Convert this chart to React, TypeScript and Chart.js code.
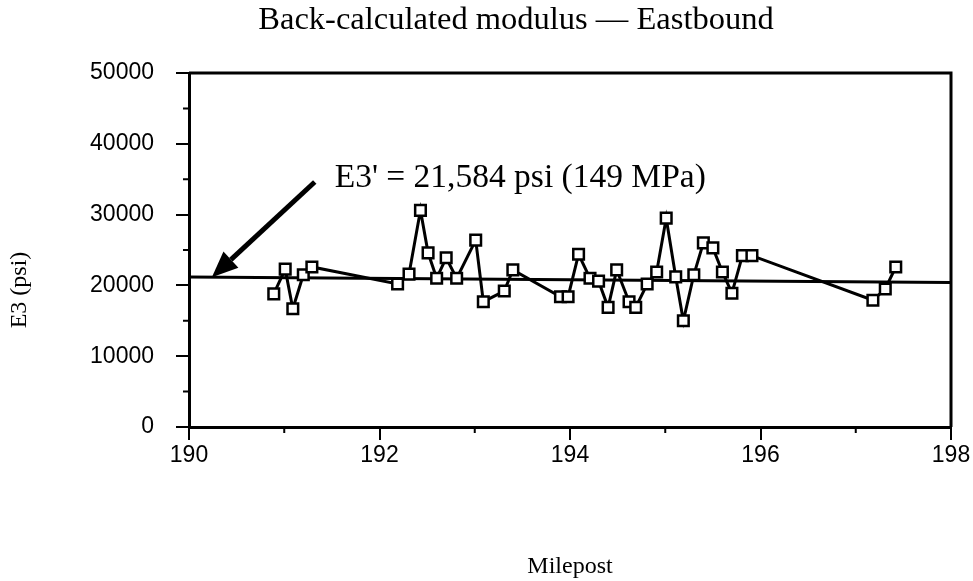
import React, { useEffect, useRef } from 'react';
import { Chart, registerables } from 'chart.js';

Chart.register(...registerables);

const TITLE = 'Back-calculated modulus — Eastbound';
const X_TITLE = 'Milepost';
const Y_TITLE = 'E3 (psi)';
const ANNOTATION = "E3' = 21,584 psi (149 MPa)";

const mileposts = [
  190.89, 191.01, 191.09, 191.2, 191.29, 192.19, 192.31, 192.43, 192.51, 192.6,
  192.7, 192.81, 193.01, 193.09, 193.31, 193.4, 193.9, 193.98, 194.09, 194.21,
  194.3, 194.4, 194.49, 194.62, 194.69, 194.81, 194.91, 195.01, 195.11, 195.19,
  195.3, 195.4, 195.5, 195.6, 195.7, 195.81, 195.91, 197.18, 197.31, 197.42,
];
const e3Values = [
  18800, 22300, 16700, 21500, 22600, 20200, 21600, 30600, 24600, 21000,
  23900, 21000, 26400, 17700, 19200, 22200, 18400, 18400, 24400, 21000,
  20600, 16900, 22200, 17700, 16900, 20200, 21900, 29500, 21200, 15000,
  21500, 26000, 25300, 21900, 18900, 24200, 24200, 17900, 19500, 22600,
];
const fitMileposts = [190, 198];
const fitValues = [21200, 20420];

const X_MIN = 190;
const X_MAX = 198;
const X_STEP = 2;
const Y_MIN = 0;
const Y_MAX = 50000;
const Y_STEP = 10000;

// arrow annotation, in data units
const arrowFrom = { x: 191.32, y: 34600 };
const arrowTo = { x: 190.24, y: 21150 };

const SANS = '"Liberation Sans", Arial, sans-serif';
const SERIF = '"Liberation Serif", "Times New Roman", serif';

const decorPlugin = {
  id: 'decor',
  afterDraw(chart: any) {
    const ctx = chart.ctx;
    const { left, right, top, bottom } = chart.chartArea;
    const xs = chart.scales.x;
    const ys = chart.scales.y;
    ctx.save();
    ctx.strokeStyle = '#000';
    ctx.fillStyle = '#000';
    // frame top + right
    ctx.lineWidth = 3;
    ctx.beginPath();
    ctx.moveTo(left, top);
    ctx.lineTo(right, top);
    ctx.lineTo(right, bottom);
    ctx.stroke();
    // minor ticks
    ctx.lineWidth = 2;
    ctx.beginPath();
    for (let v = X_MIN + X_STEP / 2; v < X_MAX; v += X_STEP) {
      const px = xs.getPixelForValue(v);
      ctx.moveTo(px, bottom);
      ctx.lineTo(px, bottom + 6);
    }
    for (let v = Y_MIN + Y_STEP / 2; v < Y_MAX; v += Y_STEP) {
      const py = ys.getPixelForValue(v);
      ctx.moveTo(left - 6, py);
      ctx.lineTo(left, py);
    }
    ctx.stroke();

    // arrow
    const x1 = xs.getPixelForValue(arrowFrom.x);
    const y1 = ys.getPixelForValue(arrowFrom.y);
    const x2 = xs.getPixelForValue(arrowTo.x);
    const y2 = ys.getPixelForValue(arrowTo.y);
    const ang = Math.atan2(y2 - y1, x2 - x1);
    const headLen = 26;
    const headHalf = 11;
    const bx = x2 - headLen * Math.cos(ang);
    const by = y2 - headLen * Math.sin(ang);
    ctx.lineWidth = 5;
    ctx.beginPath();
    ctx.moveTo(x1, y1);
    ctx.lineTo(bx, by);
    ctx.stroke();
    ctx.beginPath();
    ctx.moveTo(x2, y2);
    ctx.lineTo(bx + headHalf * Math.sin(ang), by - headHalf * Math.cos(ang));
    ctx.lineTo(bx - headHalf * Math.sin(ang), by + headHalf * Math.cos(ang));
    ctx.closePath();
    ctx.fill();

    // texts
    ctx.textBaseline = 'alphabetic';
    ctx.textAlign = 'left';
    ctx.font = `33.5px ${SERIF}`;
    ctx.fillText(ANNOTATION, x1 + 20, y1 + 5);

    ctx.textAlign = 'center';
    ctx.textBaseline = 'middle';
    ctx.font = `32.5px ${SERIF}`;
    ctx.fillText(TITLE, 516, 20);

    ctx.font = `24px ${SERIF}`;
    ctx.fillText(X_TITLE, (left + right) / 2, 567);

    ctx.save();
    ctx.translate(20, 290);
    ctx.rotate(-Math.PI / 2);
    ctx.fillText(Y_TITLE, 0, 0);
    ctx.restore();

    ctx.restore();
  },
};

export default function App() {
  const ref = useRef<HTMLCanvasElement | null>(null);
  useEffect(() => {
    if (!ref.current) return;
    const chart = new Chart(ref.current, {
      type: 'line',
      data: {
        datasets: [
          {
            label: 'E3',
            data: mileposts.map((x, i) => ({ x, y: e3Values[i] })),
            borderColor: '#000',
            borderWidth: 3,
            pointStyle: 'rect',
            pointRadius: 7.5,
            pointBorderWidth: 2.5,
            pointBackgroundColor: '#fff',
            pointBorderColor: '#000',
            tension: 0,
            order: 1,
          },
          {
            label: 'Fit',
            data: fitMileposts.map((x, i) => ({ x, y: fitValues[i] })),
            borderColor: '#000',
            borderWidth: 3,
            pointRadius: 0,
            tension: 0,
            order: 2,
          },
        ],
      },
      options: {
        responsive: false,
        animation: false,
        layout: { padding: { top: 73, right: 22, left: 0, bottom: 0 } },
        plugins: {
          legend: { display: false },
          tooltip: { enabled: false },
        },
        scales: {
          x: {
            type: 'linear',
            min: X_MIN,
            max: X_MAX,
            ticks: {
              stepSize: X_STEP,
              color: '#000',
              font: { family: SANS, size: 23 },
              padding: 2,
              maxRotation: 0,
            },
            grid: { drawOnChartArea: false, tickLength: 13, lineWidth: 2, color: '#000' },
            border: { color: '#000', width: 3 },
            afterFit: (s: any) => {
              s.height = 154;
            },
          },
          y: {
            min: Y_MIN,
            max: Y_MAX,
            ticks: {
              stepSize: Y_STEP,
              color: '#000',
              font: { family: SANS, size: 23 },
              padding: 22,
              callback: (v: any) => String(v),
            },
            grid: { drawOnChartArea: false, tickLength: 13, lineWidth: 2, color: '#000' },
            border: { color: '#000', width: 3 },
            afterFit: (s: any) => {
              s.width = 189;
            },
          },
        },
      },
      plugins: [decorPlugin],
    });
    return () => chart.destroy();
  }, []);
  return (
    <div style={{ position: 'fixed', left: 0, top: 0, width: 973, height: 581, background: '#fff' }}>
      <canvas ref={ref} width={973} height={581} />
    </div>
  );
}
